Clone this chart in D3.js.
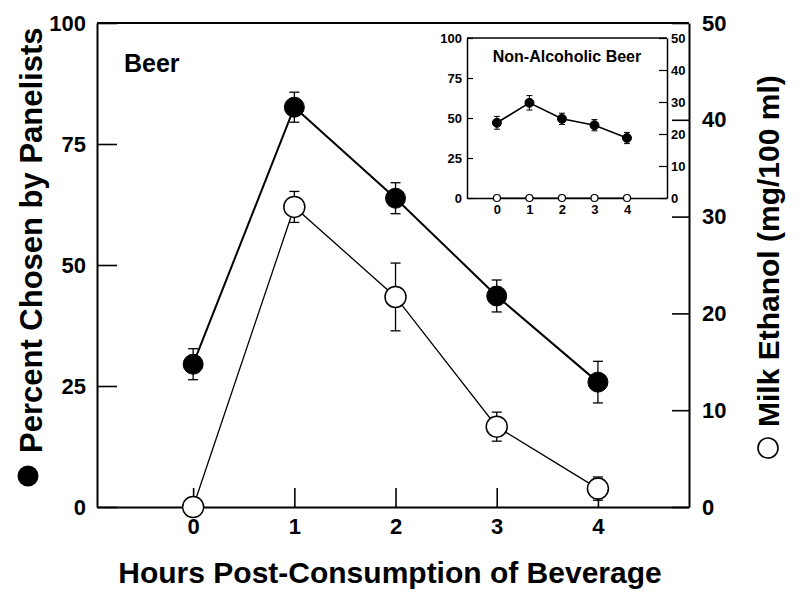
<!DOCTYPE html>
<html>
<head>
<meta charset="utf-8">
<script src="https://cdn.jsdelivr.net/npm/d3@7"></script>
<style>
  body { margin: 0; background: #fff; }
  svg text { font-family: "Liberation Sans", Arial, Helvetica, sans-serif; font-weight: bold; fill: #000; }
</style>
</head>
<body>
<div id="chart"></div>
<script>
// hours after drinking
var hours = [0, 1, 2, 3, 4];

// Beer: percent chosen by panelists (filled) and milk ethanol (open)
var beerPanel = [29.5, 82.6, 63.8, 43.6, 25.8];
var beerPanelErr = [3.2, 3.1, 3.2, 3.3, 4.3];
var beerEthanol = [0, 31.0, 21.7, 8.3, 1.9];
var beerEthanolErr = [0, 1.6, 3.5, 1.5, 1.2];

// Non-alcoholic beer (inset)
var naPanel = [47, 59.5, 49.5, 45.5, 37.5];
var naPanelErr = [4, 4.5, 3.5, 3.5, 3.5];
var naEthanol = [0, 0, 0, 0, 0];

var leftTicks = [0, 25, 50, 75, 100];
var rightTicks = [0, 10, 20, 30, 40, 50];

var svg = d3.select("#chart")
	.append("svg")
	.attr("width", 800)
	.attr("height", 606);

function drawPanel(g, opt) {
	var x = d3.scaleLinear().domain(opt.xDomain).range([opt.left, opt.right]);
	var y = d3.scaleLinear().domain([0, 100]).range([opt.bottom, opt.top]);
	var y2 = d3.scaleLinear().domain([0, 50]).range([opt.bottom, opt.top]);

	// frame top
	g.append("line")
		.attr("x1", opt.left).attr("x2", opt.right)
		.attr("y1", opt.top).attr("y2", opt.top)
		.attr("stroke", "#000").attr("stroke-width", opt.axisW);

	var yAxis = g.append("g")
		.attr("transform", "translate(" + opt.left + ",0)")
		.call(d3.axisLeft(y).tickValues(leftTicks).tickSizeInner(-opt.tickL).tickSizeOuter(0).tickPadding(opt.padL));
	var y2Axis = g.append("g")
		.attr("transform", "translate(" + opt.right + ",0)")
		.call(d3.axisRight(y2).tickValues(rightTicks).tickSizeInner(-opt.tickR).tickSizeOuter(0).tickPadding(opt.padR));
	var xAxis = g.append("g")
		.attr("transform", "translate(0," + opt.bottom + ")")
		.call(d3.axisBottom(x).tickValues(hours).tickFormat(d3.format("d"))
			.tickSizeInner(-opt.tickX).tickSizeOuter(0).tickPadding(opt.padX));

	[yAxis, y2Axis, xAxis].forEach(function(a) {
		a.selectAll("path").attr("stroke-width", opt.axisW);
		a.selectAll("line").attr("stroke-width", opt.tickW);
		a.selectAll("text").style("font-size", opt.tickFont + "px");
	});
	if (opt.hideX) xAxis.selectAll(".tick line").remove();

	function series(vals, errs, scale, filled, lineW, r) {
		var pts = hours.map(function(h, i) { return {h: h, v: vals[i], e: errs ? errs[i] : 0}; });
		g.append("path")
			.datum(pts)
			.attr("fill", "none")
			.attr("stroke", "#000")
			.attr("stroke-width", lineW)
			.attr("d", d3.line().x(function(d) { return x(d.h); }).y(function(d) { return scale(d.v); }));

		var eb = g.append("g").attr("stroke", "#000").attr("stroke-width", opt.errW);
		pts.filter(function(d) { return d.e > 0; }).forEach(function(d) {
			var cx = x(d.h), t = scale(d.v + d.e), b = scale(d.v - d.e);
			eb.append("line").attr("x1", cx).attr("x2", cx).attr("y1", t).attr("y2", b);
			eb.append("line").attr("x1", cx - opt.cap).attr("x2", cx + opt.cap).attr("y1", t).attr("y2", t);
			eb.append("line").attr("x1", cx - opt.cap).attr("x2", cx + opt.cap).attr("y1", b).attr("y2", b);
		});

		g.append("g").selectAll("circle")
			.data(pts)
			.enter()
			.append("circle")
			.attr("cx", function(d) { return x(d.h); })
			.attr("cy", function(d) { return scale(d.v); })
			.attr("r", r)
			.attr("fill", filled ? "#000" : "#fff")
			.attr("stroke", "#000")
			.attr("stroke-width", filled ? 1 : opt.openW);
	}

	series(opt.ethanol, opt.ethanolErr, y2, false, opt.lineOpen, opt.rOpen);
	series(opt.panel, opt.panelErr, y, true, opt.lineFilled, opt.rFilled);
}

// main panel
var main = svg.append("g");
drawPanel(main, {
	xDomain: [-0.95, 4.9], left: 97, right: 689, top: 23, bottom: 507,
	axisW: 2, tickW: 1.6, tickL: 20, tickR: 17, tickX: 19,
	padL: 11, padR: 13, padX: 11, tickFont: 22,
	panel: beerPanel, panelErr: beerPanelErr,
	ethanol: beerEthanol, ethanolErr: beerEthanolErr,
	lineFilled: 2, lineOpen: 1.3, rFilled: 10, rOpen: 10.5,
	errW: 1.3, cap: 5, openW: 1.5
});

main.append("text")
	.attr("x", 124).attr("y", 72)
	.style("font-size", "25px")
	.text("Beer");

// inset panel, white behind it
svg.append("rect")
	.attr("x", 467).attr("y", 38).attr("width", 200).attr("height", 160)
	.attr("fill", "#fff");
var inset = svg.append("g");
drawPanel(inset, {
	xDomain: [-0.92, 5.23], left: 467, right: 667, top: 38, bottom: 198,
	axisW: 1.5, tickW: 1.2, tickL: 6, tickR: 8, tickX: 0, hideX: true,
	padL: 5, padR: 4, padX: 7, tickFont: 13,
	panel: naPanel, panelErr: naPanelErr,
	ethanol: naEthanol, ethanolErr: null,
	lineFilled: 1.6, lineOpen: 1, rFilled: 4.5, rOpen: 3.5,
	errW: 1, cap: 3, openW: 1.2
});

inset.append("text")
	.attr("x", 567).attr("y", 62)
	.attr("text-anchor", "middle")
	.style("font-size", "16px")
	.text("Non-Alcoholic Beer");

// axis titles
svg.append("text")
	.attr("x", 390).attr("y", 583)
	.attr("text-anchor", "middle")
	.style("font-size", "30px")
	.text("Hours Post-Consumption of Beverage");

svg.append("circle")
	.attr("cx", 28).attr("cy", 476).attr("r", 10.5)
	.attr("fill", "#000");
svg.append("text")
	.attr("transform", "translate(42,453) rotate(-90)")
	.style("font-size", "31px")
	.text("Percent Chosen by Panelists");

svg.append("circle")
	.attr("cx", 768).attr("cy", 448).attr("r", 10)
	.attr("fill", "#fff").attr("stroke", "#000").attr("stroke-width", 1.6);
svg.append("text")
	.attr("transform", "translate(779,427) rotate(-90)")
	.style("font-size", "30px")
	.text("Milk Ethanol (mg/100 ml)");
</script>
</body>
</html>
